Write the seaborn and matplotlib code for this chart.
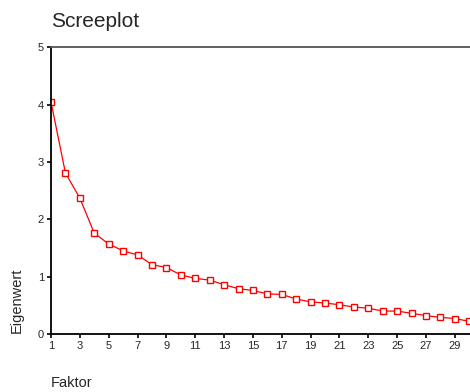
import matplotlib
matplotlib.use("Agg")
import matplotlib.pyplot as plt
import seaborn as sns
import pandas as pd

# Eigenvalues
faktor = list(range(1, 31))
eigenwert = [4.05, 2.81, 2.37, 1.76, 1.57, 1.45, 1.38, 1.21, 1.16, 1.03,
             0.97, 0.94, 0.86, 0.79, 0.76, 0.70, 0.69, 0.61, 0.56, 0.54,
             0.51, 0.47, 0.45, 0.40, 0.40, 0.36, 0.32, 0.29, 0.27, 0.22]
xticks = list(range(1, 30, 2))
yticks = [0, 1, 2, 3, 4, 5]

df = pd.DataFrame({"Faktor": faktor, "Eigenwert": eigenwert})

sns.set_style("white")
plt.rcParams['font.family'] = ['Liberation Sans', 'DejaVu Sans']

fig = plt.figure(figsize=(4.7, 3.92), dpi=100)
ax = fig.add_axes([0.1085, 0.148, 0.8915, 0.731])

sns.lineplot(data=df, x="Faktor", y="Eigenwert", ax=ax, color="red",
             linewidth=0.9, marker="s", markersize=5,
             markerfacecolor="white", markeredgecolor="red", markeredgewidth=1.0)

ax.set_xlim(1, 30.05)
ax.set_ylim(0, 5)
ax.set_xticks(xticks)
ax.set_yticks(yticks)
ax.tick_params(axis="both", direction="out", length=3, width=1.2, color="black",
               labelsize=8, pad=2, bottom=True, left=True)

ax.spines["right"].set_visible(False)
for s in ["left", "bottom"]:
    ax.spines[s].set_color("black")
    ax.spines[s].set_linewidth(1.3)
ax.spines["top"].set_color("#555555")
ax.spines["top"].set_linewidth(1.3)

ax.set_xlabel("")
ax.set_ylabel("")
fig.text(0.109, 0.944, "Screeplot", fontsize=15, ha="left", va="center")
fig.text(0.036, 0.235, "Eigenwert", fontsize=10.5, rotation=90, ha="center", va="center")
fig.text(0.109, 0.023, "Faktor", fontsize=10.5, ha="left", va="center")

fig.savefig("out.png", dpi=100)
